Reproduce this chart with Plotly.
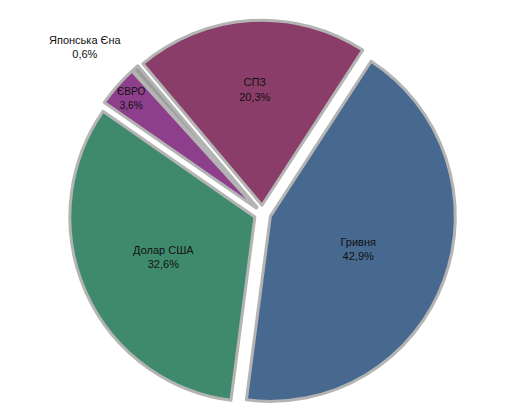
import plotly.graph_objects as go

labels = ["Гривня", "Долар США", "ЄВРО", "Японська Єна", "СПЗ"]
values = [42.9, 32.6, 3.6, 0.6, 20.3]
colors = ["#47698f", "#3f8a6d", "#8d3f8c", "#9c9c9c", "#8b3d69"]

texts = [f"{l}<br>{str(v).replace('.', ',')}%" for l, v in zip(labels, values)]
positions = ["inside", "inside", "inside", "none", "inside"]

fig = go.Figure(go.Pie(
    labels=labels,
    values=values,
    text=texts,
    textinfo="text",
    textposition=positions,
    insidetextorientation="horizontal",
    sort=False,
    direction="clockwise",
    rotation=33,
    pull=[0.045, 0.045, 0.045, 0.045, 0.045],
    marker=dict(colors=colors, line=dict(color="#b4b4b4", width=3)),
    textfont=dict(family="Liberation Sans, Arial", size=11, color="#111111"),
    hoverinfo="label+percent",
    showlegend=False,
    domain=dict(x=[0.05, 0.95], y=[0.02, 0.97]),
))

# label for the tiny slice sits outside, top-left
fig.add_annotation(
    x=0.152, y=0.905, xref="paper", yref="paper",
    xanchor="center", yanchor="middle",
    text=texts[3], showarrow=False,
    font=dict(family="Liberation Sans, Arial", size=11, color="#111111"),
)

fig.update_layout(
    width=509,
    height=407,
    margin=dict(l=0, r=0, t=0, b=0),
    paper_bgcolor="white",
    plot_bgcolor="white",
)

fig.write_html("out.html")
